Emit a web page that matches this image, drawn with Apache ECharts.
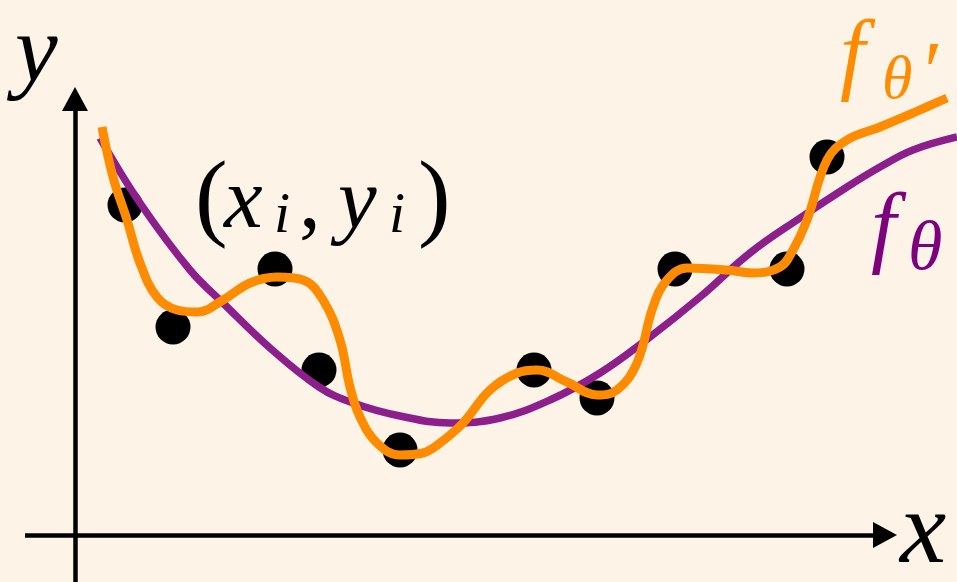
<!DOCTYPE html>
<html>
<head>
<meta charset="utf-8">
<script src="https://cdn.jsdelivr.net/npm/echarts@6/dist/echarts.min.js"></script>
<style>
  html, body { margin: 0; padding: 0; background: #fdf3e6; }
  #chart { width: 957px; height: 582px; }
</style>
</head>
<body>
<div id="chart"></div>
<script>
// Observed samples (x_i, y_i)
const sampleX = [0.50, 0.98, 2.00, 2.44, 3.25, 4.59, 5.22, 6.00, 7.12, 7.52];
const sampleY = [3.30, 2.08, 2.66, 1.65, 0.85, 1.65, 1.37, 2.66, 2.66, 3.78];

// Smooth fit f_theta, sampled along x
const fitX = [0.25, 0.65, 1.15, 1.48, 1.95, 2.44, 2.78, 3.25, 3.75, 4.25, 4.75,
              5.25, 5.75, 6.25, 6.75, 7.25, 7.72, 8.05, 8.38, 8.82];
const fitY = [3.97, 3.32, 2.65, 2.32, 1.87, 1.48, 1.32, 1.19, 1.12, 1.17, 1.35,
              1.62, 1.98, 2.38, 2.82, 3.17, 3.48, 3.68, 3.85, 3.98];

// Overfitted curve f_theta', sampled along x
const overX = [0.27, 0.38, 0.52, 0.65, 0.82, 1.02, 1.22, 1.48, 1.75, 2.02, 2.28,
               2.48, 2.65, 2.75, 2.85, 3.02, 3.25, 3.48, 3.65, 3.88, 4.15, 4.42,
               4.62, 4.92, 5.22, 5.42, 5.62, 5.78, 5.92, 6.12, 6.52, 6.78, 7.05,
               7.18, 7.32, 7.52, 7.72, 8.05, 8.38, 8.72];
const overY = [4.08, 3.58, 3.15, 2.72, 2.38, 2.25, 2.23, 2.35, 2.52, 2.58, 2.55,
               2.35, 1.95, 1.48, 1.18, 0.92, 0.80, 0.82, 0.92, 1.12, 1.45, 1.62,
               1.65, 1.53, 1.40, 1.45, 1.72, 2.28, 2.55, 2.67, 2.65, 2.62, 2.68,
               2.85, 3.15, 3.75, 3.95, 4.08, 4.22, 4.37];

// Extent of the drawn axis arrows, in data units
const xAxisSpan = [-0.5, 8.1];
const yAxisSpan = [-0.47, 4.36];

const zip = (xs, ys) => xs.map((x, i) => [x, ys[i]]);

const BG = '#fdf3e6';
const PURPLE = '#8c1f8c';
const PURPLE_TEXT = '#7d007d';
const ORANGE = '#ff8c00';
const SERIF = 'Liberation Serif';

const chart = echarts.init(document.getElementById('chart'), null, { renderer: 'canvas' });

// Math-style glyph placed by its left edge and the bottom of its text box
function txt(text, x, y, size, color, italic) {
  return {
    type: 'text', x: x, y: y, z: 10,
    style: {
      text: text, fill: color || '#000',
      fontFamily: SERIF,
      fontStyle: italic === false ? 'normal' : 'italic',
      fontWeight: 'normal',
      fontSize: size,
      align: 'left', verticalAlign: 'bottom'
    }
  };
}

const hiddenAxis = {
  type: 'value',
  splitLine: { show: false },
  axisTick: { show: false },
  axisLabel: { show: false },
  axisLine: { show: false }
};

chart.setOption({
  backgroundColor: BG,
  animation: false,
  grid: { left: 0, right: 0, top: 0, bottom: 0 },
  xAxis: Object.assign({}, hiddenAxis, { min: -0.75, max: 8.82 }),
  yAxis: Object.assign({}, hiddenAxis, { min: -0.47, max: 5.35 }),
  series: [
    {
      type: 'scatter',
      data: zip(sampleX, sampleY),
      symbol: 'circle',
      symbolSize: 35,
      itemStyle: { color: '#000', opacity: 1 },
      z: 1,
      markLine: {
        silent: true,
        symbol: ['none', 'triangle'],
        symbolSize: [26, 24],
        label: { show: false },
        lineStyle: { color: '#000', width: 4.5, type: 'solid' },
        emphasis: { disabled: true },
        data: [
          [{ coord: [xAxisSpan[0], 0] }, { coord: [xAxisSpan[1], 0] }],
          [{ coord: [0, yAxisSpan[0]] }, { coord: [0, yAxisSpan[1]] }]
        ]
      }
    },
    {
      type: 'line',
      data: zip(fitX, fitY),
      smooth: 0.4,
      showSymbol: false,
      lineStyle: { color: PURPLE, width: 7.5 },
      z: 2
    },
    {
      type: 'line',
      data: zip(overX, overY),
      smooth: 0.4,
      showSymbol: false,
      lineStyle: { color: ORANGE, width: 9 },
      z: 3
    }
  ],
  graphic: [
    txt('y', 15, 104, 96, '#000'),
    txt('x', 900, 587, 104, '#000'),
    // (x_i, y_i)
    txt('(', 195, 251, 98, '#000', false),
    txt('x', 224, 248, 87, '#000'),
    txt('i', 274, 246, 58, '#000'),
    txt(',', 299, 248, 87, '#000', false),
    txt('y', 338, 248, 87, '#000'),
    txt('i', 389, 246, 58, '#000'),
    txt(')', 418, 251, 98, '#000', false),
    // f_theta'
    txt('f', 840, 104, 90, ORANGE),
    txt('θ', 882, 113, 62, ORANGE),
    txt('′', 919, 120, 84, ORANGE),
    // f_theta
    txt('f', 871, 277, 90, PURPLE_TEXT),
    txt('θ', 908, 286, 70, PURPLE_TEXT)
  ]
});
</script>
</body>
</html>
